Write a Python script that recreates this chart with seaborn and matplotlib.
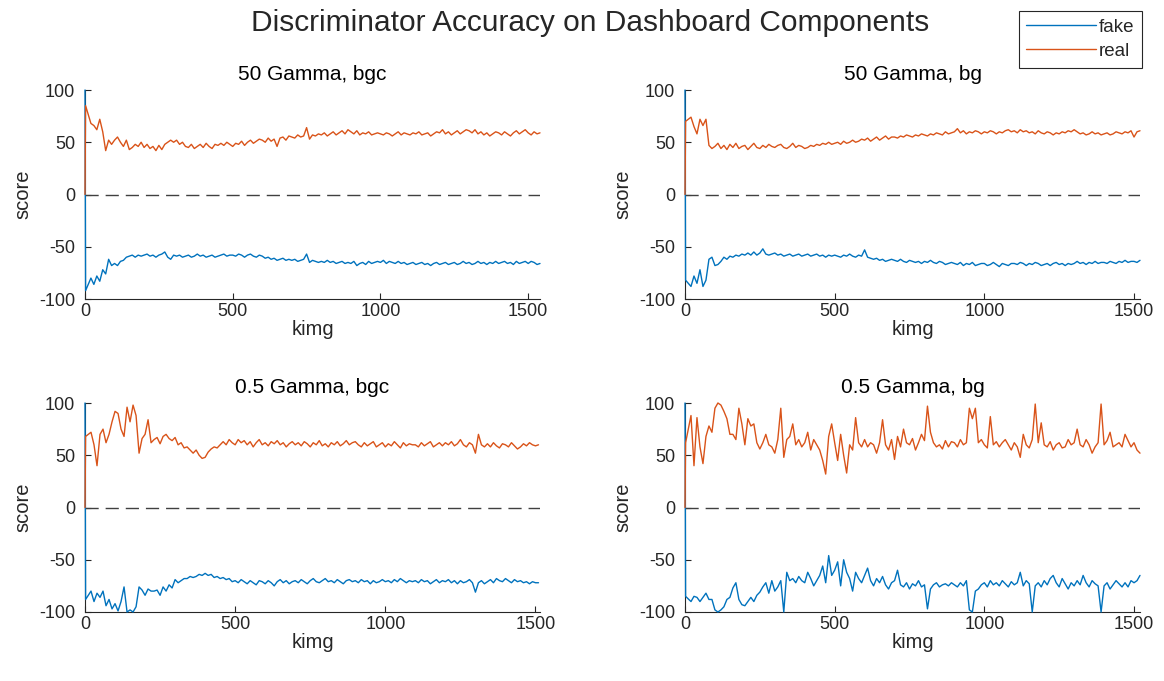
import numpy as np
import seaborn as sns
import matplotlib
matplotlib.use("Agg")
import matplotlib.pyplot as plt

# values, one value every 10 kimg (rows = 100 kimg)
tl_real = [0, 85, 68, 66, 62, 72, 60, 42, 52, 48,
           52, 55, 50, 46, 52, 43, 45, 48, 46, 50,
           45, 48, 44, 46, 42, 47, 43, 48, 50, 52,
           50, 52, 48, 50, 46, 45, 48, 44, 46, 48,
           45, 49, 46, 44, 48, 47, 49, 47, 50, 48,
           46, 49, 48, 51, 47, 50, 52, 49, 51, 53,
           52, 50, 54, 51, 53, 46, 54, 55, 52, 56,
           55, 54, 57, 55, 56, 64, 53, 57, 56, 58,
           57, 59, 56, 58, 60, 57, 59, 61, 58, 62,
           60, 58, 61, 57, 59, 58, 60, 57, 58, 59,
           58, 57, 59, 58, 56, 58, 60, 57, 59, 58,
           57, 59, 58, 60, 57, 58, 59, 56, 58, 60,
           59, 62, 58, 60, 57, 59, 61, 58, 60, 62,
           61, 59, 62, 58, 60, 57, 59, 56, 58, 60,
           59, 57, 60, 58, 56, 59, 61, 58, 60, 62,
           59, 57, 60, 58, 59]
tl_fake = [100, -92, -80, -86, -78, -83, -72, -76, -62, -68,
           -66, -68, -64, -63, -60, -59, -58, -60, -58, -59,
           -58, -57, -59, -58, -60, -58, -57, -55, -60, -62,
           -58, -59, -58, -60, -59, -58, -60, -59, -57, -59,
           -58, -60, -59, -58, -60, -59, -58, -57, -59, -58,
           -58, -59, -57, -58, -60, -58, -57, -59, -60, -58,
           -59, -61, -60, -62, -61, -63, -62, -61, -63, -62,
           -63, -62, -64, -63, -62, -57, -65, -63, -64, -65,
           -64, -65, -63, -65, -64, -66, -65, -64, -66, -65,
           -66, -64, -68, -66, -65, -67, -64, -66, -65, -64,
           -65, -63, -66, -64, -65, -66, -64, -66, -65, -67,
           -66, -65, -67, -66, -65, -67, -66, -68, -66, -65,
           -67, -66, -65, -67, -66, -65, -67, -66, -64, -66,
           -65, -67, -66, -64, -66, -65, -67, -65, -66, -64,
           -66, -65, -64, -66, -65, -67, -64, -66, -65, -64,
           -66, -64, -65, -67, -66]

tr_real = [0, 70, 74, 65, 58, 72, 66, 72, 47, 44,
           46, 49, 44, 47, 43, 48, 45, 49, 44, 46,
           47, 43, 46, 49, 45, 44, 47, 45, 48, 46,
           45, 47, 48, 45, 44, 46, 49, 45, 47, 46,
           44, 45, 47, 46, 48, 47, 49, 48, 50, 48,
           49, 50, 48, 51, 49, 50, 52, 50, 51, 53,
           52, 54, 51, 53, 55, 52, 54, 56, 53, 55,
           55, 54, 56, 55, 57, 56, 55, 57, 56, 58,
           57, 56, 58, 57, 59, 58, 57, 60, 58, 59,
           60, 63, 59, 61, 58, 60, 59, 61, 60, 58,
           60, 59, 61, 60, 58, 60, 59, 61, 62, 60,
           61, 59, 62, 60, 61, 59, 60, 58, 61, 59,
           58, 60, 59, 57, 59, 58, 60, 59, 61, 60,
           62, 60, 58, 59, 57, 58, 60, 58, 59, 57,
           58, 59, 57, 58, 60, 59, 58, 60, 59, 61,
           55, 60, 61]
tr_fake = [100, -82, -88, -78, -85, -72, -88, -82, -62, -60,
           -68, -67, -64, -60, -62, -59, -60, -58, -59, -57,
           -58, -56, -58, -55, -58, -56, -52, -57, -58, -57,
           -56, -58, -57, -59, -58, -57, -59, -58, -57, -59,
           -58, -57, -59, -58, -57, -59, -58, -60, -58, -59,
           -58, -59, -60, -58, -59, -57, -59, -60, -58, -59,
           -53, -60, -61, -62, -61, -63, -62, -64, -63, -62,
           -63, -64, -62, -64, -65, -63, -64, -65, -64, -66,
           -64, -65, -63, -65, -66, -64, -65, -67, -66, -65,
           -66, -67, -65, -68, -66, -67, -65, -68, -67, -66,
           -66, -68, -67, -65, -67, -69, -66, -67, -68, -66,
           -66, -67, -65, -66, -68, -66, -67, -65, -66, -68,
           -67, -66, -68, -66, -65, -67, -66, -68, -66, -67,
           -66, -64, -66, -65, -67, -65, -66, -64, -66, -65,
           -65, -66, -64, -65, -66, -64, -65, -63, -65, -64,
           -64, -65, -63]

bl_real = [0, 68, 72, 60, 40, 70, 75, 62, 70, 82,
           92, 90, 75, 68, 96, 82, 98, 88, 52, 66,
           70, 84, 62, 65, 67, 61, 68, 70, 66, 64,
           67, 60, 62, 57, 58, 55, 52, 55, 50, 47,
           48, 53, 56, 58, 57, 60, 63, 60, 65, 62,
           60, 65, 62, 64, 60, 63, 58, 62, 65, 60,
           62, 59, 63, 61, 64, 60, 62, 58, 61, 63,
           60, 62, 59, 63, 61, 58, 62, 60, 64, 59,
           61, 58, 62, 60, 63, 59, 61, 64, 60, 62,
           63, 60, 58, 62, 59, 61, 63, 58, 60, 62,
           58, 61, 59, 63, 60, 57, 62, 59, 61, 60,
           60, 58, 62, 59, 61, 63, 58, 60, 62, 59,
           62, 60, 63, 59, 61, 65, 60, 58, 62, 60,
           52, 70, 60, 58, 61, 58, 62, 59, 57, 61,
           60, 58, 62, 59, 56, 58, 61, 59, 62, 60,
           59, 60]
bl_fake = [100, -88, -80, -90, -82, -86, -80, -94, -88, -97,
           -92, -99, -90, -76, -100, -98, -100, -95, -76, -79,
           -84, -78, -80, -80, -79, -84, -76, -80, -74, -77,
           -69, -72, -70, -68, -68, -66, -67, -66, -64, -65,
           -63, -65, -64, -67, -66, -68, -67, -69, -68, -71,
           -70, -72, -69, -71, -73, -70, -72, -74, -70, -71,
           -73, -70, -72, -75, -71, -69, -72, -70, -73, -71,
           -70, -72, -69, -71, -73, -70, -68, -71, -72, -70,
           -68, -71, -70, -72, -69, -71, -73, -70, -69, -71,
           -70, -72, -69, -71, -70, -73, -70, -72, -71, -69,
           -71, -70, -72, -69, -71, -68, -70, -72, -70, -71,
           -70, -72, -69, -71, -70, -73, -71, -69, -72, -70,
           -71, -69, -72, -70, -73, -70, -72, -71, -69, -72,
           -81, -72, -70, -73, -71, -69, -72, -68, -70, -71,
           -68, -70, -72, -69, -71, -70, -72, -71, -73, -71,
           -72, -72]

br_real = [0, 62, 88, 40, 86, 58, 42, 68, 78, 72,
           95, 100, 98, 92, 85, 70, 70, 65, 95, 80,
           60, 85, 78, 80, 62, 56, 62, 70, 60, 58,
           52, 65, 95, 48, 65, 68, 80, 60, 65, 58,
           62, 72, 55, 65, 60, 55, 45, 32, 68, 80,
           62, 45, 70, 50, 33, 60, 55, 86, 62, 58,
           65, 58, 62, 60, 52, 62, 84, 60, 55, 65,
           46, 68, 58, 75, 62, 60, 66, 55, 62, 70,
           64, 97, 72, 62, 58, 60, 56, 64, 58, 63,
           62, 58, 65, 60, 62, 95, 85, 95, 62, 65,
           60, 57, 87, 60, 63, 58, 62, 65, 60, 55,
           62, 58, 48, 70, 60, 57, 65, 99, 62, 81,
           60, 58, 63, 55, 60, 62, 57, 58, 65, 60,
           62, 75, 60, 58, 65, 60, 52, 58, 62, 99,
           60, 64, 72, 58, 60, 62, 58, 70, 64, 58,
           62, 55, 52]
br_fake = [100, -85, -90, -85, -86, -90, -86, -82, -88, -88,
           -98, -100, -98, -95, -88, -86, -77, -72, -88, -93,
           -94, -90, -86, -90, -84, -81, -76, -72, -82, -70,
           -80, -76, -70, -100, -62, -70, -68, -72, -66, -70,
           -72, -62, -68, -75, -70, -65, -56, -72, -46, -65,
           -60, -52, -75, -50, -62, -68, -80, -62, -68, -72,
           -65, -58, -70, -75, -68, -72, -66, -74, -78, -72,
           -70, -60, -74, -76, -72, -78, -73, -75, -70, -76,
           -74, -97, -78, -74, -72, -76, -74, -73, -75, -72,
           -74, -76, -72, -75, -70, -98, -100, -80, -78, -74,
           -72, -76, -70, -74, -72, -75, -70, -73, -76, -71,
           -74, -72, -62, -75, -70, -73, -100, -75, -72, -76,
           -70, -74, -68, -65, -72, -76, -68, -73, -78, -72,
           -75, -70, -74, -65, -72, -76, -70, -73, -75, -100,
           -75, -72, -78, -74, -70, -73, -76, -72, -76, -70,
           -72, -70, -65]

titles = ["50 Gamma, bgc", "50 Gamma, bg", "0.5 Gamma, bgc", "0.5 Gamma, bg"]
x_ends = [1540, 1520, 1515, 1520]
panels = [(tl_fake, tl_real), (tr_fake, tr_real), (bl_fake, bl_real), (br_fake, br_real)]

BLUE = "#0072BD"
ORANGE = "#D95319"
INK = (0.15, 0.15, 0.15)


def kimg_axis(n):
    # samples every 10 kimg; the first logged step comes right after 0
    k = np.arange(n) * 10.0
    k[1] = 2
    return k


sns.set_theme(style="ticks")
plt.rcParams["font.family"] = ["Liberation Sans", "DejaVu Sans"]
plt.rcParams["axes.unicode_minus"] = False

fig = plt.figure(figsize=(11.64, 6.81), dpi=100)
W, H = 1164, 681
boxes = [(85, 90), (685, 90), (85, 403), (685, 403)]

for (px, py), title, xend, (fake, real) in zip(boxes, titles, x_ends, panels):
    ax = fig.add_axes([px / W, 1 - (py + 209) / H, 455 / W, 209 / H])
    ax.axhline(0, color=(0.25, 0.25, 0.25), lw=1.0, dashes=(9.5, 5), zorder=1)
    sns.lineplot(x=kimg_axis(len(fake)), y=fake, ax=ax, color=BLUE, lw=1.0,
                 zorder=3, label="fake", clip_on=False)
    sns.lineplot(x=kimg_axis(len(real)), y=real, ax=ax, color=ORANGE, lw=1.0,
                 zorder=3, label="real", clip_on=False)
    if ax.get_legend() is not None:
        ax.get_legend().remove()
    ax.set_xlim(0, xend)
    ax.set_ylim(-100, 100)
    ax.set_xticks([0, 500, 1000, 1500])
    ax.set_yticks([-100, -50, 0, 50, 100])
    ax.set_xlabel("kimg", fontsize=14.5, color=INK, labelpad=0)
    ax.set_ylabel("score", fontsize=14.5, color=INK, labelpad=5)
    ax.set_title(title, fontsize=15, color="black", pad=7.5)
    ax.tick_params(direction="in", length=4, width=0.8, colors=INK, labelsize=13)
    ax.tick_params(axis="x", pad=3)
    ax.tick_params(axis="y", pad=7)
    sns.despine(ax=ax)
    for s in ("left", "bottom"):
        ax.spines[s].set_color(INK)
        ax.spines[s].set_linewidth(0.8)

fig.suptitle("Discriminator Accuracy on Dashboard Components", fontsize=21.5,
             x=590 / W, y=1 - 23 / H, va="center", color=INK)

handles = fig.axes[0].get_lines()[1:3]
leg = fig.legend(handles, ["fake", "real"], loc="upper right",
                 bbox_to_anchor=(1142 / W, 1 - 11 / H), fontsize=13.5,
                 handlelength=3.7, handletextpad=0.15, labelspacing=0.35,
                 borderpad=0.42, borderaxespad=0, fancybox=False, framealpha=1)
leg.get_frame().set_edgecolor(INK)
leg.get_frame().set_linewidth(0.8)
for t in leg.get_texts():
    t.set_color(INK)

fig.savefig("out.png", dpi=100)
